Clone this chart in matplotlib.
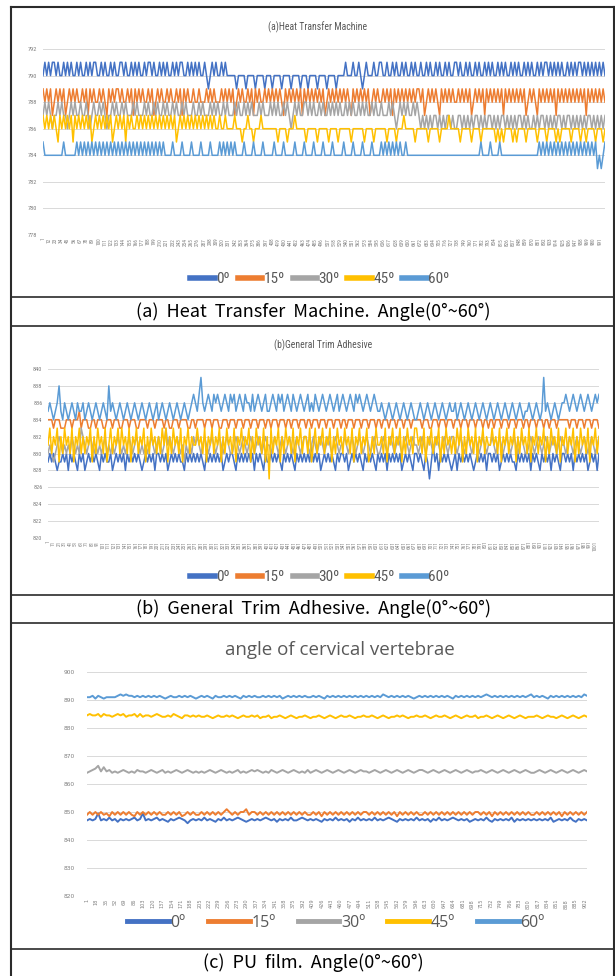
import numpy as np
import matplotlib
matplotlib.use("Agg")
import matplotlib.pyplot as plt
from matplotlib import font_manager as fm
from matplotlib.lines import Line2D

# ---------------- data (digits = offsets from a base level) ----------------
labels = ["0º", "15º", "30º", "45º", "60º"]
colors = ["#4472C4", "#ED7D31", "#A5A5A5", "#FFC000", "#5B9BD5"]

# (a) Heat Transfer Machine : integer levels, 1000 readings (every ~3rd shown)
a_len = 1000
a_bases = [789, 787, 786, 785, 783]
a_0 = ("12121221211212121121" "21121212211212112121" "12212112121211212212" "11212121121212211212"
       "12121121012121121211" "11101111011110111101" "11011110111101111011" "10111101111011110111"
       "12111211210121112112" "21121121211212112121" "12112121121211212112" "21211212112121121212"
       "11212121121212112121" "21121212212121212112" "12121221212121212121")
a_15 = ("21212012121201212121" "12120212112121021212" "21211212021212112120" "12121121211212021211"
        "21121112121211121212" "12012121121202121121" "21212121021212121202" "12121212120121212121"
        "21210212121212012121" "12121202121212121212" "21201212121021212121" "12121212012121202121"
        "21212021212121212012" "12102121212120212121" "21212121202121212121")
a_30 = ("12121011212110121211" "21121012112121011212" "11212111212111212112" "12112121121211212111"
        "21121211121212112121" "11212112121211121211" "12121211212101212112" "21212112121121212121"
        "12121211212121121211" "21112121012121211212" "10101010110101011010" "01101010101101010110"
        "10101101010101101010" "01010110101010110101" "10101010101101010101")
a_45 = ("21212121021212120212" "12121201212121212012" "12120212112121212121" "21212121212012121212"
        "12121212121211211211" "11211101121101112111" "11111011110111211111" "01111101111101111011"
        "11110111111011110111" "11101111011121111101" "11111011111011112111" "11011111011110111111"
        "10101011110101111011" "11101111011110101111" "10111101101111011101")
a_60 = ("21111111" "1112111111" "212121212121212121212121212121212121212121212121"
        "111211112111121111211112111121" "21212121"
        "1112111121111211111211112111112111121111211112111121111121111211112111121111"
        "21212121212" "1121111" "111111111111111111111111111111111" "112111121111211111"
        "111111111111111" "2121212121212121212121212121212" "01012")
a_yticks = [778, 780, 782, 784, 786, 788, 790, 792]
a_xticks = list(range(1, 992, 11))

# (b) General Trim Adhesive : integer levels, 1008 readings
b_len = 1008
b_bases = [826, 830, 826, 826, 830]
b_0 = ("34343233434243432434" "23434343243433423434" "34243434343234343424" "43434234343433243434"
       "34343243434343423434" "43243434343424343243" "34343432434343243434" "34353434234343432434"
       "43423434343243434324" "34342434343423434324" "43432431353424343432" "34243434343234343424"
       "43434234343433243434" "34243432434342434324" "43434243434342343424")
b_15 = ("44434443334443444534" "44334434443344434443" "34443444334444344434" "44434433444344443344"
        "34444344434443344434" "44344434443444344434" "43444344434434443444" "34434443444344434443"
        "44344434443444344434" "43444344434443444344" "44434443344434443444" "34443444344434443443"
        "44344434443444344434" "43444344434434443444" "44434443444344434443")
b_30 = ("45434565454546545476" "54565454545645454565" "45456545654545456545" "65457565456545354546"
        "56545654565456545654" "45654565456545654565" "54565456545654565456" "65456545654565456545"
        "56545654565456545654" "45654565456545654565" "54565456545654565456" "65456545654565456545"
        "56545654565456545654" "45654565456545654565" "54565456545654565456")
b_45 = ("57465736475647365746" "46573647564735746574" "75647365746573647564" "64757364756473657465"
        "57564736574657364756" "47365746573647564736" "17465736475647365746" "64735746574657364756"
        "47564736574657346475" "56473657465736475647" "75647365746573647564" "64757364756473657465"
        "57564736574657364756" "47365746573647564736" "57465736475647365746")
b_60 = ("56545685465456546556" "45654565456548565456" "54565456545654565456" "45654565456545654567"
        "65796567657676567657" "67567657665756765675" "56765767567657656765" "67565765676567656756"
        "76567657676567656765" "56545654565456545654" "45654565456545654565" "56456545654565456545"
        "65456545654565456545" "56545654595654565456" "67656765676567656767")
b_yticks = [820, 822, 824, 826, 828, 830, 832, 834, 836, 838, 840]
b_xticks = list(range(1, 1002, 10))

# (c) PU film : half-unit levels, 906 readings
c_len = 906
c_bases = [845, 847, 862, 881, 888]
c_0 = ("45459454645354545645" "94545645435456542454" "54645435464545654345" "45456545354546445654"
       "54543545464545354645" "45464545654354545464" "54535464545654545345" "45464354545463545454"
       "54545463454546435454")
c_15 = ("46464645364646464364" "64646464464646346464" "46464646468646466846" "64646464646464646464"
        "46463646464646464646" "64646464646364646464" "46464646464646464646" "64646364646464646464"
        "46464646463646464646")
c_30 = ("45679585645456545465" "54565456454565456545" "45456545654545645456" "56545465456545654546"
        "45654565456545654565" "54565456545654565456" "65456545654565456545" "56545654565456545654"
        "45654565456545654565")
c_45 = ("78778687767878677868" "67767876676876577676" "76676567667676567667" "67566756676567656676"
        "56676567656766765667" "66765676566767656676" "67656766765676567667" "56676567656765676566"
        "67656766567656765676")
c_60 = ("66757656666787877676" "76767676567667676765" "67676576676767657676" "76676767675676767676"
        "67676576767676767676" "76767687676767676567" "67676767676576767676" "76787676767676767678"
        "67676576767676767687")
c_yticks = [820, 830, 840, 850, 860, 870, 880, 890, 900]
c_xticks = list(range(1, 903, 17))

captions = ["(a)  Heat  Transfer  Machine.  Angle(0°~60°)",
            "(b)  General  Trim  Adhesive.  Angle(0°~60°)",
            "(c)  PU  film.  Angle(0°~60°)"]
titles = ["(a)Heat Transfer Machine", "(b)General Trim Adhesive", "angle of cervical vertebrae"]


def decode(s, base, step=1.0):
    return base + step * np.array([int(ch) for ch in s], dtype=float)


# ---------------- figure ----------------
W, H = 615, 976
fig = plt.figure(figsize=(W / 100, H / 100), dpi=100)
avail = {f.name for f in fm.fontManager.ttflist}


def pick(cands, default):
    for c in cands:
        if c in avail:
            return c
    return default


NARROW = pick(["Liberation Sans Narrow", "Roboto Condensed", "Open Sans Condensed",
               "DejaVu Sans Condensed", "Arial Narrow"], "Roboto")
CJK = ["Noto Sans CJK KR", "DejaVu Sans"]
TXT = "#595959"

bg = fig.add_axes([0, 0, 1, 1])
bg.set_xlim(0, W)
bg.set_ylim(H, 0)
bg.axis("off")


def box(x0, y0, x1, y1):
    return fig.add_axes([x0 / W, 1 - y1 / H, (x1 - x0) / W, (y1 - y0) / H])


def panel(rect, series, bases, step, n, ylim, yticks, xticks, lw, fam, yfs, xfs, pad):
    ax = box(*rect)
    for s, b, c, lab in zip(series, bases, colors, labels):
        y = decode(s, b, step)
        x = np.linspace(1, n, len(y))
        ax.plot(x, y, color=c, lw=lw, label=lab)
    ax.set_xlim(1, n)
    ax.set_ylim(*ylim)
    ax.set_yticks(yticks)
    ax.set_yticklabels([str(t) for t in yticks], fontsize=yfs, family=fam, color="#7F7F7F")
    ax.set_xticks(xticks)
    ax.set_xticklabels([str(t) for t in xticks], rotation=90, fontsize=xfs, family=fam,
                       color="#7F7F7F")
    ax.grid(axis="y", color="#D9D9D9", lw=0.7)
    ax.set_axisbelow(True)
    for sp in ax.spines.values():
        sp.set_visible(False)
    ax.tick_params(length=0, axis="y", pad=pad)
    ax.tick_params(length=0, axis="x", pad=2)
    return ax


def legend(cx, cy, fs, fam, hl, cs, lw):
    hs = [Line2D([0], [0], color=c, lw=lw) for c in colors]
    fig.legend(hs, labels, loc="center", bbox_to_anchor=(cx / W, 1 - cy / H), ncol=5,
               frameon=False, prop={"family": fam, "size": fs}, handlelength=hl,
               handletextpad=0.1, columnspacing=cs, labelcolor=TXT)


# panel (a)
panel((43, 49, 605, 235), [a_0, a_15, a_30, a_45, a_60], a_bases, 1.0, a_len,
      (778, 792), a_yticks, a_xticks, 1.1, NARROW, 4.5, 3.8, 4)
bg.text(318, 27, titles[0], ha="center", va="center", fontsize=7, family=NARROW, color=TXT)
legend(320, 279, 11, NARROW, 1.6, 0.5, 4)

# panel (b)
panel((48, 369, 599, 538), [b_0, b_15, b_30, b_45, b_60], b_bases, 1.0, b_len,
      (820, 840), b_yticks, b_xticks, 1.1, NARROW, 4.5, 3.8, 4)
bg.text(323, 345, titles[1], ha="center", va="center", fontsize=7, family=NARROW, color=TXT)
legend(320, 577, 11, NARROW, 1.6, 0.5, 4)

# panel (c)
panel((87, 672, 587, 896), [c_0, c_15, c_30, c_45, c_60], c_bases, 0.5, c_len,
      (820, 900), c_yticks, c_xticks, 1.4, "DejaVu Sans", 4.2, 3.6, 9)
bg.text(340, 650, titles[2], ha="center", va="center", fontsize=13.5, family="Open Sans",
        color=TXT)
legend(336, 923, 11.5, "Open Sans", 2.6, 1.4, 3.5)

# table borders and captions
bc = "#2B2B2B"
bg.plot([11, 11], [7, 976], color=bc, lw=1.5)
bg.plot([614, 614], [7, 976], color=bc, lw=1.5)
bg.plot([11, 614], [7, 7], color=bc, lw=1.5)
for yy in (297, 326, 595, 623, 949):
    bg.plot([11, 614], [yy, yy], color=bc, lw=1.2)
for cap, yy in zip(captions, (311.5, 609, 962.5)):
    bg.text(313, yy, cap, ha="center", va="center", fontsize=13, family=CJK, color="black")

fig.savefig("out.png", dpi=100)
